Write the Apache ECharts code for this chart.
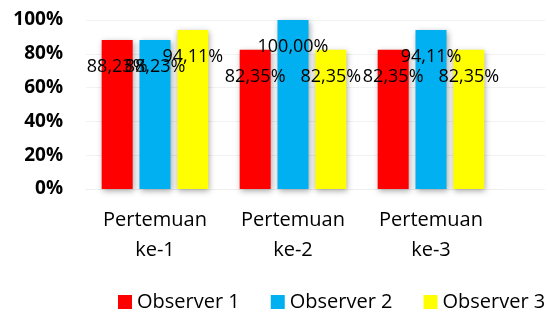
<!DOCTYPE html>
<html lang="id">
<head>
    <meta charset="UTF-8">
    <title>Observer</title>
    <script src="https://cdn.jsdelivr.net/npm/echarts@6/dist/echarts.min.js"></script>
    <style>
        html, body { margin: 0; padding: 0; background: #fff; }
        #chart { width: 550px; height: 313px; }
    </style>
</head>
<body>
    <div id="chart"></div>
    <script>
        var categories = ['Pertemuan\nke-1', 'Pertemuan\nke-2', 'Pertemuan\nke-3'];
        var seriesNames = ['Observer 1', 'Observer 2', 'Observer 3'];
        var observer1 = [88.23, 82.35, 82.35];
        var observer2 = [88.23, 100.00, 94.11];
        var observer3 = [94.11, 82.35, 82.35];
        var colors = ['#ff0000', '#00b0f0', '#ffff00'];

        var font = '"Open Sans", sans-serif';

        function makeSeries(name, values, color) {
            return {
                name: name,
                type: 'bar',
                data: values,
                barWidth: 31,
                barGap: '22%',
                itemStyle: {
                    color: color,
                    shadowColor: 'rgba(0,0,0,0.35)',
                    shadowBlur: 6,
                    shadowOffsetX: 1,
                    shadowOffsetY: 2
                },
                label: {
                    show: true,
                    position: ['50%', 27],
                    align: 'center',
                    verticalAlign: 'middle',
                    color: '#000',
                    fontFamily: font,
                    fontSize: 18,
                    formatter: function (p) {
                        return p.value.toFixed(2).replace('.', ',') + '%';
                    }
                }
            };
        }

        var chart = echarts.init(document.getElementById('chart'));
        chart.setOption({
            animation: false,
            legend: {
                data: seriesNames,
                left: 118,
                top: 292,
                padding: 0,
                itemWidth: 14,
                itemHeight: 14,
                itemGap: 31,
                icon: 'rect',
                textStyle: { fontFamily: font, fontSize: 20, color: '#000' }
            },
            grid: [
                { left: 86, right: 50, top: 20, bottom: 124 },
                { left: 86, right: 5, top: 20, bottom: 124 }
            ],
            xAxis: [{
                type: 'category',
                data: categories,
                gridIndex: 0,
                axisLine: { show: true, lineStyle: { color: '#eeeeee', width: 1 } },
                axisTick: { show: false },
                axisLabel: {
                    fontFamily: font, fontSize: 20, color: '#000',
                    lineHeight: 30, margin: 16
                }
            }, {
                type: 'value',
                gridIndex: 1,
                show: false
            }],
            yAxis: [{
                type: 'value',
                gridIndex: 0,
                min: 0, max: 100, interval: 20,
                axisLine: { show: false },
                axisTick: { show: false },
                splitLine: { show: false },
                axisLabel: {
                    fontFamily: font, fontSize: 19, fontWeight: 'bold', color: '#000',
                    margin: 23,
                    formatter: '{value}%'
                }
            }, {
                type: 'value',
                gridIndex: 1,
                min: 0, max: 100, interval: 20,
                axisLine: { show: false },
                axisTick: { show: false },
                axisLabel: { show: false },
                splitLine: { show: true, lineStyle: { color: '#f2f2f2', width: 1 } }
            }],
            series: [
                makeSeries(seriesNames[0], observer1, colors[0]),
                makeSeries(seriesNames[1], observer2, colors[1]),
                makeSeries(seriesNames[2], observer3, colors[2])
            ]
        });
    </script>
</body>
</html>
